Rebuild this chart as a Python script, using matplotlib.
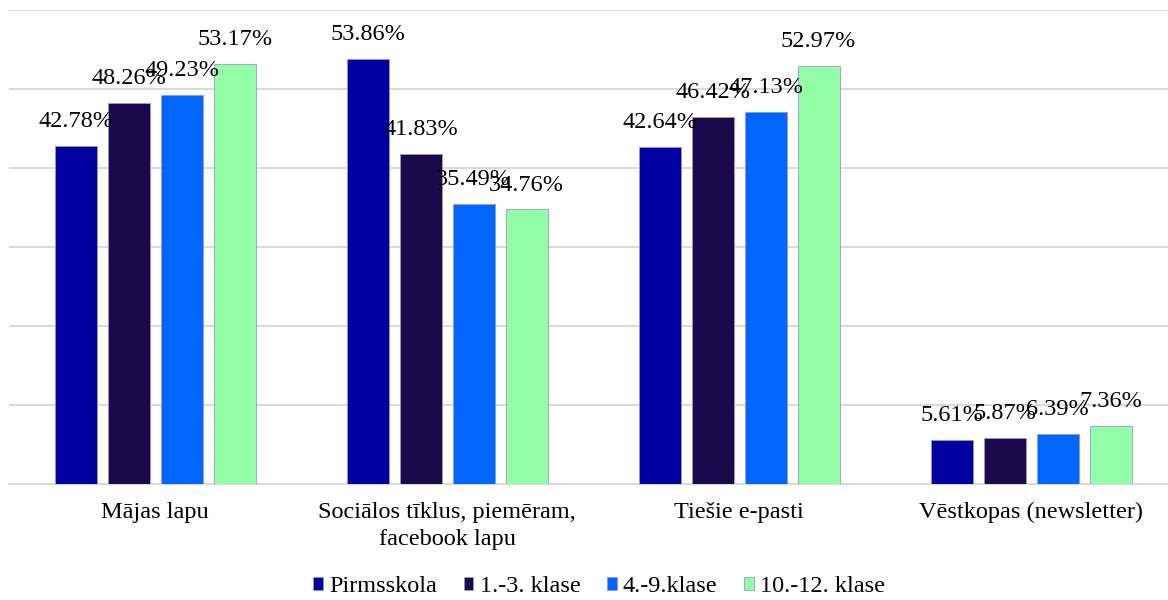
import matplotlib.pyplot as plt
import numpy as np

plt.rcParams['font.family'] = ['Liberation Serif', 'DejaVu Serif']

categories = ['Mājas lapu', 'Sociālos tīklus, piemēram,\nfacebook lapu', 'Tiešie e-pasti', 'Vēstkopas (newsletter)']
series = ['Pirmsskola', '1.-3. klase', '4.-9.klase', '10.-12. klase']
pirmsskola = [42.78, 53.86, 42.64, 5.61]
klase_1_3 = [48.26, 41.83, 46.42, 5.87]
klase_4_9 = [49.23, 35.49, 47.13, 6.39]
klase_10_12 = [53.17, 34.76, 52.97, 7.36]
colors = ['#0000A0', '#1A0A4C', '#0066FF', '#92FFA6']

values = [pirmsskola, klase_1_3, klase_4_9, klase_10_12]

fig = plt.figure(figsize=(11.68, 6), dpi=100)
# plot area runs a little past the right edge, like the original
ax = fig.add_axes([0.008, 0.1933, 1.0, 0.79])

x = np.arange(len(categories))
width = 0.144
pitch = 0.181
for i, (name, vals) in enumerate(zip(series, values)):
    pos = x + (i - 1.5) * pitch
    bars = ax.bar(pos, vals, width, color=colors[i], label=name,
                  edgecolor='#9999CC', linewidth=0.6, zorder=3)
    for b, v in zip(bars, vals):
        ax.annotate(f'{v:.2f}%', (b.get_x() + b.get_width() / 2, v),
                    xytext=(0, 10), textcoords='offset points',
                    ha='center', va='bottom', fontsize=17.5, color='#000000', zorder=5)

ax.set_xlim(-0.5, 3.5)
ax.set_ylim(0, 60)
ax.set_yticks(np.arange(0, 61, 10))
ax.yaxis.grid(True, color='#D9D9D9', linewidth=1.5, zorder=0)
ax.tick_params(axis='y', left=False, labelleft=False)
ax.set_xticks(x)
ax.set_xticklabels(categories, fontsize=17.5, linespacing=1.35)
ax.tick_params(axis='x', length=0, pad=13)
for s in ['top', 'right', 'left']:
    ax.spines[s].set_visible(False)
ax.spines['bottom'].set_color('#D9D9D9')
ax.spines['bottom'].set_linewidth(1.5)

fig.legend(loc='center', bbox_to_anchor=(0.513, 0.022), ncol=4, frameon=False,
           fontsize=17.5, handlelength=0.4, handleheight=0.4, handletextpad=0.25,
           columnspacing=1.1, borderpad=0)

fig.savefig('out.png', dpi=100)
